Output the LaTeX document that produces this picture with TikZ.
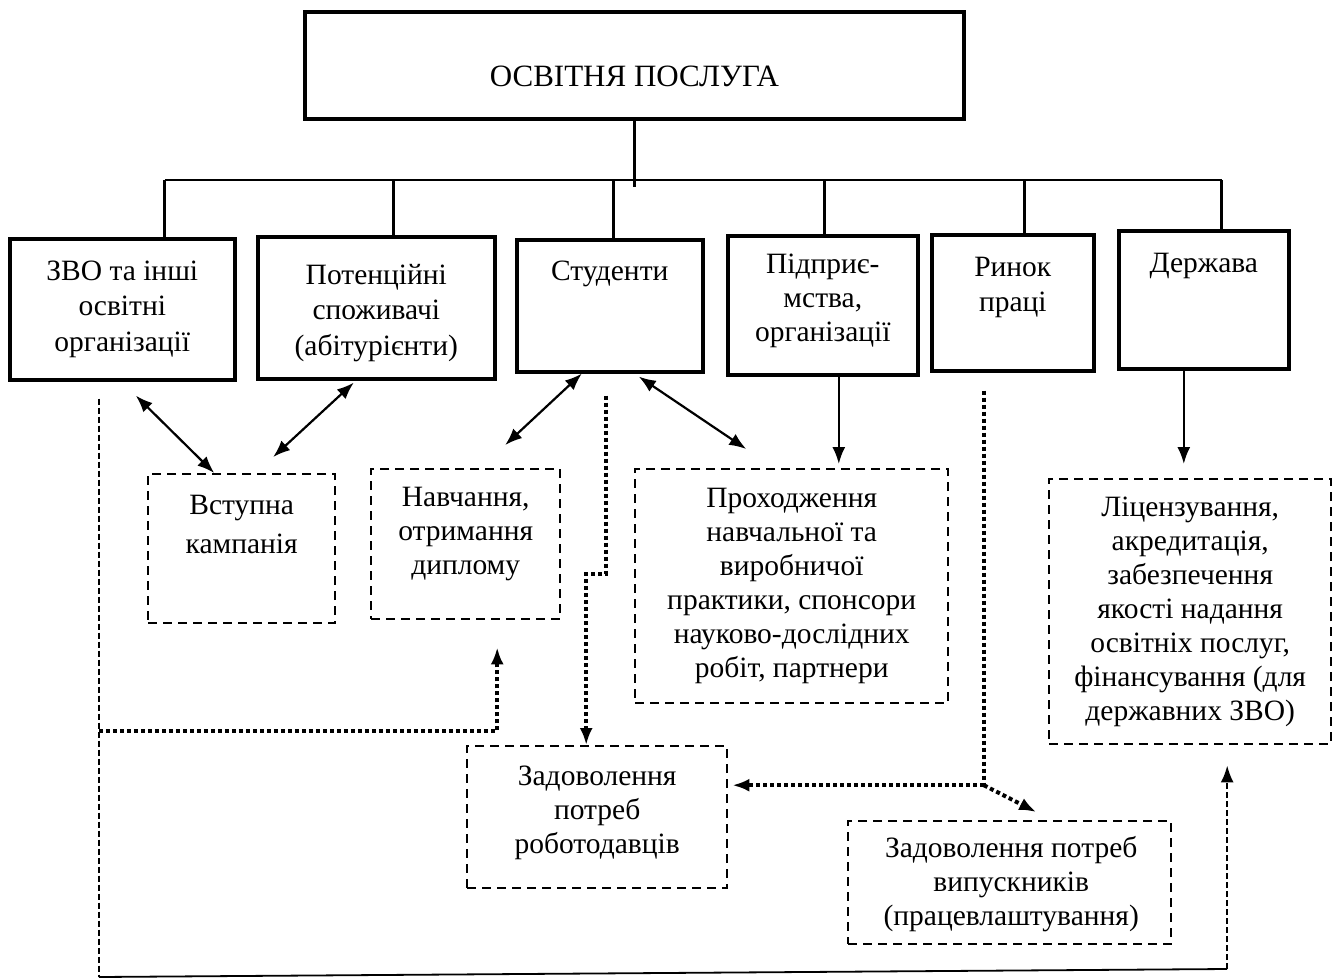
\documentclass[tikz,border=0pt]{standalone}
\usepackage{fontspec}
\setmainfont{Liberation Serif}
\usetikzlibrary{arrows.meta,calc}

\tikzset{
  mainbox/.style={draw,line width=3.6pt,inner sep=0pt,anchor=north west},
  taskbox/.style={draw,line width=2.4pt,dash pattern=on 9pt off 6pt,inner sep=0pt,anchor=north west},
  txt/.style={align=center,anchor=base,inner sep=0pt,font=\fontsize{29.5}{34}\selectfont},
  rowtxt/.style={txt,font=\fontsize{29.5}{35.5}\selectfont},
  tree/.style={line width=2.8pt},
  link/.style={line width=2.2pt},
  dotline/.style={line width=4pt,dash pattern=on 4pt off 3pt},
  dashline/.style={line width=2.4pt,dash pattern=on 6pt off 3pt}
}

\begin{document}
\begin{tikzpicture}[x=1pt,y=-1pt,>={Latex[length=17pt,width=13pt]}]
\useasboundingbox (0,0) rectangle (1338,979);

% top box
\node[mainbox,line width=3.8pt,minimum width=659pt,minimum height=107pt] (top) at (303,10) {};
\node[txt,font=\fontsize{31}{36}\selectfont] (top-t) at ($(top.north)+(0,77)$) {ОСВІТНЯ ПОСЛУГА};

% actors
\node[mainbox,minimum width=225pt,minimum height=141pt] (zvo) at (8,237) {};
\node[mainbox,minimum width=237pt,minimum height=142pt] (abit) at (256,235) {};
\node[mainbox,minimum width=186pt,minimum height=132pt] (stud) at (515,238) {};
\node[mainbox,minimum width=190pt,minimum height=139pt] (pidpr) at (726,234) {};
\node[mainbox,minimum width=162pt,minimum height=136pt] (rynok) at (930,233) {};
\node[mainbox,minimum width=170pt,minimum height=138pt] (derzh) at (1117,229) {};

% text anchored at the baseline of its last line
\node[rowtxt] (zvo-t) at ($(zvo.north)+(0,114)$) {ЗВО та інші\\освітні\\організації};
\node[rowtxt] (abit-t) at ($(abit.north)+(0,120)$) {Потенційні\\споживачі\\(абітурієнти)};
\node[rowtxt] (stud-t) at ($(stud.north)+(0,42)$) {Студенти};
\node[txt] (pidpr-t) at ($(pidpr.north)+(0,107)$) {Підприє-\\мства,\\організації};
\node[rowtxt] (rynok-t) at ($(rynok.north)+(0,78.5)$) {Ринок\\праці};
\node[rowtxt] (derzh-t) at ($(derzh.north)+(0,43)$) {Держава};

% tasks
\node[taskbox,minimum width=187pt,minimum height=149pt] (vstup) at (147,473) {};
\node[taskbox,minimum width=189pt,minimum height=150pt] (navch) at (370,468) {};
\node[taskbox,minimum width=313pt,minimum height=234pt] (prokh) at (634,468) {};
\node[taskbox,minimum width=282pt,minimum height=265pt] (lits) at (1048,478) {};
\node[taskbox,minimum width=260pt,minimum height=142pt] (robot) at (466,745) {};
\node[taskbox,minimum width=323pt,minimum height=123pt] (vypusk) at (847,820) {};

\node[txt,font=\fontsize{29.5}{39}\selectfont] (vstup-t) at ($(vstup.north)+(0,80)$) {Вступна\\кампанія};
\node[txt] (navch-t) at ($(navch.north)+(0,106)$) {Навчання,\\отримання\\диплому};
\node[txt] (prokh-t) at ($(prokh.north)+(0,209)$) {Проходження\\навчальної та\\виробничої\\практики, спонсори\\науково-дослідних\\робіт, партнери};
\node[txt] (lits-t) at ($(lits.north)+(0,242)$) {Ліцензування,\\акредитація,\\забезпечення\\якості надання\\освітніх послуг,\\фінансування (для\\державних ЗВО)};
\node[txt] (robot-t) at ($(robot.north)+(0,108)$) {Задоволення\\потреб\\роботодавців};
\node[txt] (vypusk-t) at ($(vypusk.north)+(1.5,105)$) {Задоволення потреб\\випускників\\(працевлаштування)};

% tree
\coordinate (bus) at (0,180);
\draw[tree] (top.south) -- ($(top.south |- bus)+(0,7)$);
\foreach \n/\dx in {zvo/42.5,abit/17.5,stud/4,pidpr/2,rynok/12,derzh/18}{
  \coordinate (s-\n) at ($(\n.north)+(\dx,0)$);
  \draw[tree] (s-\n) -- (s-\n |- bus);
}
\draw[tree] (s-zvo |- bus) -- (s-derzh |- bus);

% links
\draw[link,<->] ($(zvo.south)+(13.5,14)$) -- ($(vstup.north)+(-27.5,0)$);
\draw[link,<->] ($(abit.south)+(-22.5,2)$) -- ($(vstup.north)+(31.5,-16)$);
\draw[link,<->] ($(stud.south)+(-28,0)$) -- ($(navch.north)+(39.5,-23)$);
\draw[link,<->] ($(stud.south)+(29,3)$) -- ($(prokh.north)+(-45.5,-19)$);
\coordinate (p0) at ($(pidpr.south)+(16,0)$);
\draw[link,->] (p0) -- ($(p0 |- prokh.north)+(0,-4)$);
\coordinate (d0) at ($(derzh.south)+(-20,0)$);
\draw[link,->] (d0) -- ($(d0 |- lits.north)+(0,-14)$);

% feedback from ZVO
\coordinate (z0) at ($(zvo.south)+(-23.5,17)$);
\coordinate (l0) at ($(lits.south)+(37,20)$);
\draw[dashline] (z0) -- (z0 |- 0,977);
\draw[link,line width=1.8pt] (z0 |- 0,977) -- (l0 |- 0,969);
\draw[dashline,->] (l0 |- 0,969) -- (l0);

% dotted flows
\coordinate (n0) at ($(navch.south)+(31.5,27)$);
\draw[dotline,->] (z0 |- 0,731) -| (n0);
\coordinate (s0) at ($(stud.south)+(-4,22)$);
\coordinate (r0) at ($(robot.north)+(-11,0)$);
\draw[dotline,->] (s0) -- (s0 |- 0,574) -| (r0);
\coordinate (k0) at ($(rynok.south)+(-29,18)$);
\coordinate (r1) at ($(robot.east)+(4,-32)$);
\coordinate (v1) at ($(vypusk.north)+(26.5,-8)$);
\draw[dotline] (k0) -- (k0 |- r1);
\draw[dotline,->] (k0 |- r1) -- (r1);
\draw[dotline,->] (k0 |- r1) -- (v1);
\end{tikzpicture}
\end{document}
